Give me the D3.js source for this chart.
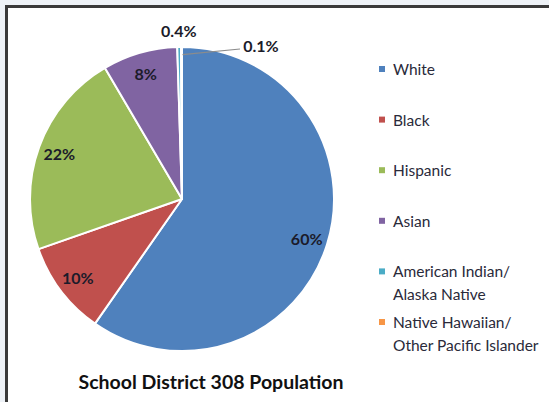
<!DOCTYPE html>
<html>
<head>
<meta charset="utf-8">
<script src="https://cdn.jsdelivr.net/npm/d3@7"></script>
<style>
  html, body { margin: 0; padding: 0; background: #eef2f7; }
  svg { display: block; }
</style>
</head>
<body>
<svg id="chart" width="549" height="402"></svg>
<script>
// Student population by group (percent)
const groups = ["White", "Black", "Hispanic", "Asian", "American Indian/Alaska Native", "Native Hawaiian/Other Pacific Islander"];
const percents = [60, 10, 22, 8, 0.4, 0.1];
const percentLabels = ["60%", "10%", "22%", "8%", "0.4%", "0.1%"];
const legendLines = [["White"], ["Black"], ["Hispanic"], ["Asian"], ["American Indian/", "Alaska Native"], ["Native Hawaiian/", "Other Pacific Islander"]];
const sliceColors = ["#4f81bd", "#c0504d", "#9bbb59", "#8064a2", "#4bacc6", "#f79646"];
const chartTitle = "School District 308 Population";

const W = 549, H = 402;
const svg = d3.select("#chart");
const FONT = "Lato, 'Open Sans', sans-serif";

// chart area frame
svg.append("rect").attr("x", 6.5).attr("y", 6.5).attr("width", W + 10).attr("height", H + 10)
  .attr("fill", "#ffffff").attr("stroke", "#3a3a3a").attr("stroke-width", 3);

const cx = 182, cy = 199, R = 152;
const color = d3.scaleOrdinal().domain(groups).range(sliceColors);

const data = groups.map((g, i) => ({ group: g, value: percents[i], label: percentLabels[i] }));
const pie = d3.pie().value(d => d.value).sort(null).startAngle(0).endAngle(2 * Math.PI);
const arcs = pie(data);
const arc = d3.arc().innerRadius(0).outerRadius(R);

const g = svg.append("g").attr("transform", `translate(${cx},${cy})`);

g.selectAll("path.slice").data(arcs).join("path")
  .attr("class", "slice")
  .attr("d", arc)
  .attr("fill", d => color(d.data.group))
  .attr("stroke", "#ffffff")
  .attr("stroke-width", 2)
  .attr("stroke-linejoin", "round");

// value labels: large slices inside, small slices outside the rim
const inner = d3.arc().innerRadius(R * 0.86).outerRadius(R * 0.86);
const mid = d => (d.startAngle + d.endAngle) / 2;
const polar = (a, r) => [Math.sin(a) * r, -Math.cos(a) * r];

const labelPos = d => {
  if (d.data.value >= 1) return inner.centroid(d);
  if (d.index === 4) return polar(mid(d), R + 17);
  return [79, -154];
};

g.selectAll("text.val").data(arcs).join("text")
  .attr("class", "val")
  .attr("x", d => labelPos(d)[0])
  .attr("y", d => labelPos(d)[1])
  .attr("text-anchor", "middle")
  .attr("dominant-baseline", "central")
  .attr("font-family", FONT)
  .attr("font-weight", "bold")
  .attr("font-size", 16)
  .attr("fill", "#1b1b2a")
  .text(d => d.data.label);

// leader line for the smallest slice
const tiny = arcs[5];
const p0 = polar(mid(tiny), R * 0.95);
const p1 = labelPos(tiny);
g.append("line")
  .attr("x1", p0[0] + 1).attr("y1", p0[1])
  .attr("x2", p1[0] - 21).attr("y2", p1[1] + 4)
  .attr("stroke", "#8c8c8c").attr("stroke-width", 1.2);

// legend
const lx = 379, ly0 = 69, step = 50.6, lineH = 23;
const lg = svg.append("g");
legendLines.forEach((lines, i) => {
  const y = ly0 + i * step;
  lg.append("rect").attr("x", lx).attr("y", y - 3).attr("width", 6).attr("height", 6)
    .attr("fill", sliceColors[i]);
  const t = lg.append("text")
    .attr("x", lx + 14).attr("y", y)
    .attr("dominant-baseline", "central")
    .attr("font-family", FONT)
    .attr("font-size", 15.5)
    .attr("fill", "#2a2a3a");
  lines.forEach((ln, j) => {
    t.append("tspan").attr("x", lx + 14).attr("dy", j === 0 ? 0 : lineH).text(ln);
  });
});

// title
svg.append("text")
  .attr("x", 211).attr("y", 381)
  .attr("text-anchor", "middle")
  .attr("dominant-baseline", "central")
  .attr("font-family", FONT)
  .attr("font-weight", "bold")
  .attr("font-size", 19.5)
  .attr("fill", "#111111")
  .text(chartTitle);
</script>
</body>
</html>
